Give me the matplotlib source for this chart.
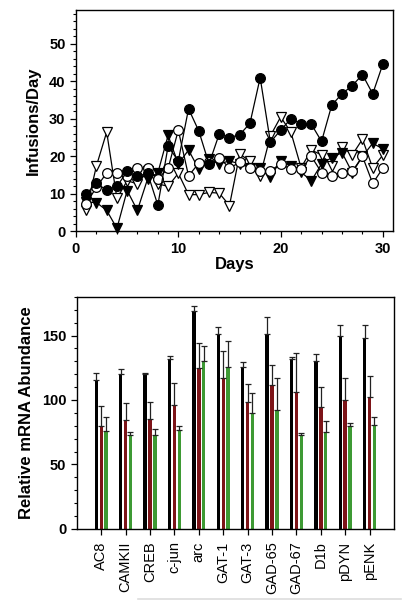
import matplotlib
matplotlib.use('Agg')
import matplotlib.pyplot as plt
from matplotlib.ticker import MultipleLocator
import numpy as np

plt.rcParams['font.family'] = ['Liberation Sans', 'DejaVu Sans']

# ----Infusions per day (top panel)---- #

days = np.arange(1, 31)
filled_circle = [10, 12.8, 11, 12, 16, 14.7, 15.5, 7, 22.7, 18.8,
                 32.7, 26.8, 18, 26, 25, 25.8, 28.8, 41, 23.8, 27,
                 30, 28.7, 28.6, 24, 33.7, 36.7, 38.9, 41.8, 36.7, 44.7]
open_circle = [7.4, 11.8, 15.6, 15.6, 14.8, 16.8, 16.8, 14, 16.8, 27,
               14.8, 18.2, 18.5, 19.7, 16.9, 18.4, 17, 16, 16.2, 18,
               16.6, 16.6, 20, 15.7, 14.8, 15.7, 16, 20, 12.8, 16.9]
filled_tri = [7.8, 7.7, 5.6, 0.8, 10.9, 5.6, 14, 15.6, 25.6, 18,
              21.7, 16.6, 19.3, 18, 18.8, 18, 17, 16.8, 14.6, 18.8,
              17.5, 15.8, 13.5, 18, 19.7, 21, 15.7, 20, 23.5, 22]
open_tri = [5.6, 17.5, 26.5, 8.8, 13.5, 12.7, 16, 12.7, 12, 15.5,
            9.8, 9.8, 10.4, 10.2, 6.9, 20.6, 18.8, 14.8, 25.5, 30.5,
            26.5, 17, 21.7, 20.4, 17.5, 22.6, 20.4, 24.6, 16.9, 20.4]

# ----Relative mRNA abundance (bottom panel)---- #

genes = ['AC8', 'CAMKII', 'CREB', 'c-jun', 'arc', 'GAT-1', 'GAT-3',
         'GAD-65', 'GAD-67', 'D1b', 'pDYN', 'pENK']
black_mean = [115.5, 120, 120, 131.5, 169.3, 151.2, 125.8, 151.2, 131.5, 130.5, 149.9, 147.8]
black_err = [5.2, 4.1, 0.8, 2.9, 3.7, 5.6, 3.4, 13.4, 2.1, 5.2, 8.2, 10.6]
red_mean = [80.1, 84.5, 85, 95.9, 124.5, 116.8, 98.7, 111.6, 105.9, 94.6, 100, 102]
red_err = [15.2, 13.4, 13.7, 17, 20, 21.2, 13.7, 15.3, 30.3, 15.7, 17.3, 16.6]
green_mean = [76, 72.9, 72.9, 76.7, 130.5, 125.8, 89.7, 92.2, 73.2, 74.9, 79.8, 80.6]
green_err = [10.6, 2.5, 4.4, 3.1, 11.4, 20.2, 16, 25.1, 1.2, 8.8, 2.1, 6.5]

fig = plt.figure(figsize=(4.13, 6.01), dpi=100)

# top panel
ax1 = fig.add_axes([0.184, 0.615, 0.768, 0.368])
line_kw = dict(color='k', lw=0.9, ms=7, mew=0.9, mec='k', clip_on=False)
ax1.plot(days, open_tri, marker='v', mfc='white', **line_kw)
ax1.plot(days, filled_tri, marker='v', mfc='k', **line_kw)
ax1.plot(days, open_circle, marker='o', mfc='white', **line_kw)
ax1.plot(days, filled_circle, marker='o', mfc='k', **line_kw)
ax1.set_xlim(0, 31)
ax1.set_ylim(0, 59)
ax1.xaxis.set_major_locator(MultipleLocator(10))
ax1.xaxis.set_minor_locator(MultipleLocator(2))
ax1.yaxis.set_major_locator(MultipleLocator(10))
ax1.yaxis.set_minor_locator(MultipleLocator(2))
ax1.set_xlabel('Days', fontsize=12, fontweight='bold', labelpad=1)
ax1.set_ylabel('Infusions/Day', fontsize=12, fontweight='bold', labelpad=6)

# bottom panel
ax2 = fig.add_axes([0.186, 0.12, 0.768, 0.386])
x = np.arange(len(genes))
width = 0.14
err_kw = dict(ecolor='#222222', elinewidth=0.9, capsize=2, capthick=0.9)
ax2.bar(x - 0.2, black_mean, width, color='k',
        yerr=[np.zeros(len(genes)), black_err], error_kw=err_kw)
ax2.bar(x, red_mean, width, color='#7d1418',
        yerr=[np.zeros(len(genes)), red_err], error_kw=err_kw)
ax2.bar(x + 0.2, green_mean, width, color='#3e9a34',
        yerr=[np.zeros(len(genes)), green_err], error_kw=err_kw)
ax2.set_xlim(-1, 12)
ax2.set_ylim(0, 180)
ax2.set_xticks(x)
ax2.set_xticklabels(genes, rotation=90, fontsize=10.5)
ax2.tick_params(axis='x', length=0, pad=5)
ax2.yaxis.set_major_locator(MultipleLocator(50))
ax2.yaxis.set_minor_locator(MultipleLocator(10))
ax2.set_ylabel('Relative mRNA Abundance', fontsize=12, fontweight='bold', labelpad=6)

for ax in (ax1, ax2):
    ax.tick_params(which='major', direction='out', length=4, width=0.9, labelsize=10.5)
    ax.tick_params(which='minor', direction='out', length=2, width=0.8)
    for lab in ax.get_yticklabels():
        lab.set_fontweight('bold')
    for spine in ax.spines.values():
        spine.set_linewidth(1.0)
for lab in ax1.get_xticklabels():
    lab.set_fontweight('bold')

# faint rule at the foot of the page
fig.add_artist(plt.Line2D([0.335, 0.97], [0.004, 0.004], color='#dddddd', lw=1.2))

fig.savefig('out.png', dpi=100)
